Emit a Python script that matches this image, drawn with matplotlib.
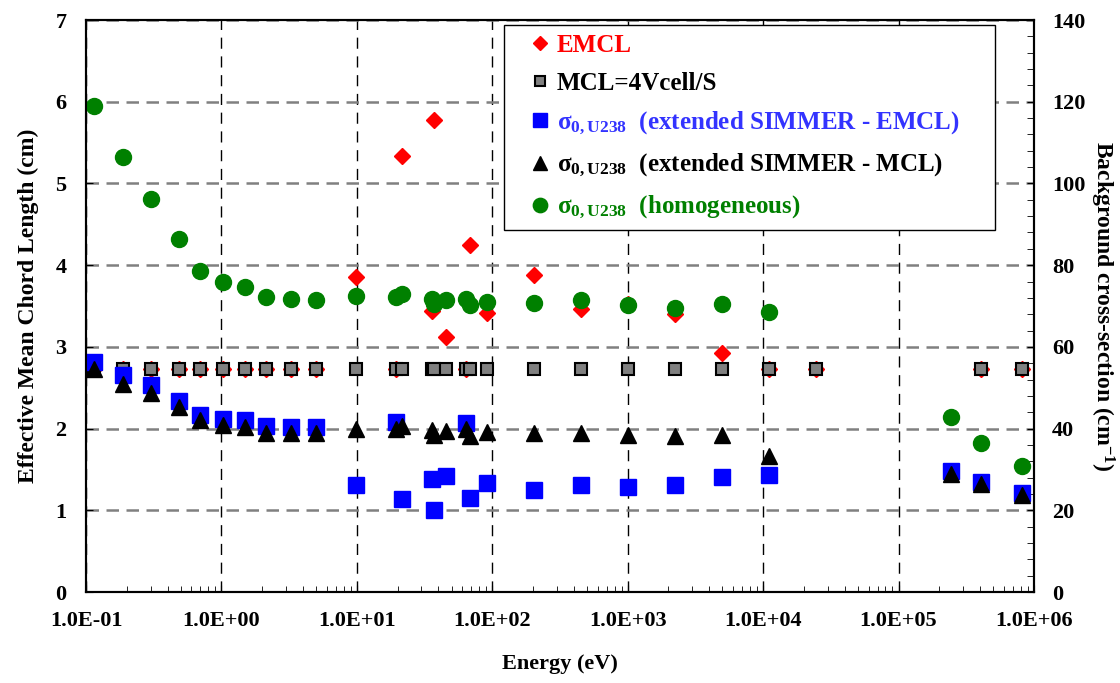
import matplotlib
matplotlib.use("Agg")
import matplotlib.pyplot as plt
from matplotlib.ticker import FixedLocator, FuncFormatter, LogLocator, MultipleLocator, NullFormatter

plt.rcParams["font.family"] = "Liberation Serif"
plt.rcParams["font.weight"] = "bold"
plt.rcParams["axes.labelweight"] = "bold"
plt.rcParams["mathtext.fontset"] = "custom"
plt.rcParams["mathtext.rm"] = "Liberation Serif:bold"
plt.rcParams["mathtext.it"] = "Liberation Serif:bold"
plt.rcParams["mathtext.bf"] = "Liberation Serif:bold"
plt.rcParams["mathtext.default"] = "rm"

# energies (eV) for the chord length series
energy_cl = [0.115, 0.187, 0.3, 0.484, 0.70, 1.02, 1.49, 2.12, 3.28, 5.0,
             9.9, 19.5, 21.5, 35.7, 37.2, 45.4, 64, 69, 91, 204,
             450, 1000, 2240, 4980, 11100, 24600, 405000, 815000]
emcl = [2.73, 2.73, 2.73, 2.73, 2.73, 2.73, 2.73, 2.73, 2.73, 2.73,
        3.86, 2.73, 5.33, 3.44, 5.78, 3.12, 2.73, 4.25, 3.41, 3.88,
        3.46, 3.53, 3.40, 2.92, 2.73, 2.73, 2.73, 2.73]
mcl = [2.73, 2.73, 2.73, 2.73, 2.73, 2.73, 2.73, 2.73, 2.73, 2.73,
       2.73, 2.73, 2.73, 2.73, 2.73, 2.73, 2.73, 2.73, 2.73, 2.73,
       2.73, 2.73, 2.73, 2.73, 2.73, 2.73, 2.73, 2.73]

# energies (eV) for the background cross-section series
energy_sig = [0.115, 0.187, 0.3, 0.484, 0.70, 1.02, 1.49, 2.12, 3.28, 5.0,
              9.9, 19.5, 21.5, 35.7, 37.2, 45.4, 64, 69, 91, 204,
              450, 1000, 2240, 4980, 11100, 245000, 405000, 815000]
sig_emcl = [56.4, 53.0, 50.6, 46.8, 43.4, 42.4, 42.2, 40.6, 40.4, 40.4,
            26.2, 41.6, 22.8, 27.6, 20.0, 28.4, 41.4, 23.0, 26.8, 25.0,
            26.2, 25.8, 26.2, 28.2, 28.6, 29.6, 27.0, 24.2]
sig_mcl = [54.6, 51.0, 48.6, 45.2, 42.0, 40.8, 40.4, 39.0, 38.8, 39.0,
           40.0, 40.0, 40.6, 39.6, 38.4, 39.4, 39.8, 38.2, 39.2, 38.8,
           38.8, 38.4, 38.2, 38.4, 33.2, 28.8, 26.4, 23.8]
sig_hom = [119.0, 106.4, 96.2, 86.4, 78.6, 75.8, 74.6, 72.2, 71.6, 71.4,
           72.4, 72.2, 73.0, 71.8, 70.6, 71.4, 71.8, 70.2, 71.0, 70.8,
           71.4, 70.2, 69.6, 70.6, 68.6, 42.8, 36.4, 30.8]

x_ticks = [0.1, 1, 10, 100, 1000, 1e4, 1e5, 1e6]

labels = [
    "EMCL",
    "MCL=4Vcell/S",
    r"$\sigma_{0,U238}$  (extended SIMMER - EMCL)",
    r"$\sigma_{0,U238}$  (extended SIMMER - MCL)",
    r"$\sigma_{0,U238}$  (homogeneous)",
]
text_colors = ["#ff0000", "black", "#3333ff", "black", "#008000"]

fig = plt.figure(figsize=(11.2, 6.83), dpi=100)
ax1 = fig.add_axes([0.0768, 0.1332, 0.8464, 0.8375])
ax2 = ax1.twinx()

h1, = ax1.plot(energy_cl, emcl, linestyle="none", marker="D", ms=8,
               color="#ff0000", mec="#ff0000", label=labels[0])
h2, = ax1.plot(energy_cl, mcl, linestyle="none", marker="s", ms=8.5,
               mfc="#808080", mec="black", mew=1.5, label=labels[1])
h3, = ax2.plot(energy_sig, sig_emcl, linestyle="none", marker="s", ms=11,
               color="#0000ff", label=labels[2])
h4, = ax2.plot(energy_sig, sig_mcl, linestyle="none", marker="^", ms=11,
               color="black", label=labels[3])
h5, = ax2.plot(energy_sig, sig_hom, linestyle="none", marker="o", ms=11.5,
               color="#008000", label=labels[4])

ax1.set_xscale("log")
ax1.set_xlim(0.1, 1e6)
ax1.set_ylim(0, 7)
ax2.set_ylim(0, 140)

ax1.xaxis.set_major_locator(FixedLocator(x_ticks))
ax1.xaxis.set_minor_locator(LogLocator(base=10, subs=range(2, 10), numticks=12))
ax1.xaxis.set_minor_formatter(NullFormatter())
ax1.xaxis.set_major_formatter(FuncFormatter(lambda v, p: f"{v:.1E}"))
ax1.yaxis.set_major_locator(MultipleLocator(1))
ax2.yaxis.set_major_locator(MultipleLocator(20))
ax2.yaxis.set_minor_locator(MultipleLocator(4))

ax1.tick_params(axis="both", which="both", direction="in", labelsize=16,
                top=False, right=False)
ax1.tick_params(axis="x", which="major", length=5, pad=14)
ax1.tick_params(axis="x", which="minor", length=4)
ax1.tick_params(axis="y", length=5, pad=14)
ax2.tick_params(axis="y", which="both", direction="in", length=5, labelsize=16, pad=13)

ax1.yaxis.grid(True, color="#808080", linestyle=(0, (5, 3)), linewidth=1.8)
ax1.xaxis.grid(True, which="major", color="black", linestyle=(0, (8, 5.5)), linewidth=1)
ax1.set_axisbelow(True)

for ax in (ax1, ax2):
    for sp in ax.spines.values():
        sp.set_linewidth(1.5)

ax1.set_xlabel("Energy (eV)", fontsize=16, labelpad=16)
ax1.set_ylabel("Effective Mean Chord Length (cm)", fontsize=17, labelpad=12)
ax2.set_ylabel("Background cross-section (cm$^{-1}$)", fontsize=17,
               rotation=270, va="bottom", labelpad=2)

leg = ax2.legend(handles=[h1, h2, h3, h4, h5], loc="upper left",
                 bbox_to_anchor=(0.441, 0.647, 0.518, 0.344), mode="expand",
                 borderaxespad=0, fontsize=18, frameon=True, fancybox=False,
                 edgecolor="black", framealpha=1, borderpad=0.35,
                 handlelength=2.2, handletextpad=-0.45, labelspacing=0.6,
                 numpoints=1, markerscale=0.9)
leg.get_frame().set_linewidth(1.0)
for txt, c in zip(leg.get_texts(), text_colors):
    txt.set_color(c)

fig.savefig("out.png", dpi=100)
